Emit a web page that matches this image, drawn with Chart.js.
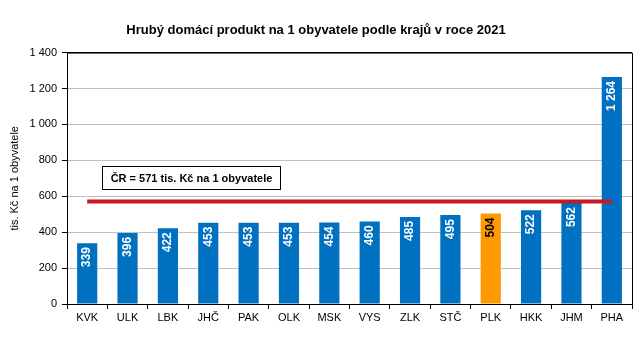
<html>
<head>
    <script src="https://cdn.jsdelivr.net/npm/chart.js"></script>
    <style>
        body { margin: 0; background: #fff; }
        #wrap { position: relative; width: 643px; height: 348px; }
    </style>
</head>
<body>
<div id="wrap"><canvas id="gdpChart" width="643" height="348"></canvas></div>
<script>
    var regions = ['KVK', 'ULK', 'LBK', 'JHČ', 'PAK', 'OLK', 'MSK', 'VYS', 'ZLK', 'STČ', 'PLK', 'HKK', 'JHM', 'PHA'];
    var gdpValues = [339, 396, 422, 453, 453, 453, 454, 460, 485, 495, 504, 522, 562, 1264];
    var czAverage = 571;
    var yTicks = [0, 200, 400, 600, 800, 1000, 1200, 1400];
    var avgNote = 'ČR = 571 tis. Kč na 1 obyvatele';

    var BLUE = '#0070C0', ORANGE = '#FF9900', RED = '#C8171E';
    var FONT = 'Liberation Sans, Arial, sans-serif';

    function fmt(v) {
        return String(v).replace(/\B(?=(\d{3})+(?!\d))/g, ' ');
    }

    // frame around plot, average note, rotated value labels
    var extras = {
        id: 'extras',
        beforeDatasetsDraw: function (chart) {
            var ctx = chart.ctx, a = chart.chartArea;
            ctx.save();
            ctx.strokeStyle = '#000';
            ctx.lineWidth = 1;
            ctx.beginPath();
            ctx.moveTo(a.left, a.top + 0.5);
            ctx.lineTo(a.right + 0.5, a.top + 0.5);
            ctx.lineTo(a.right + 0.5, a.bottom);
            ctx.stroke();
            ctx.restore();
        },
        afterDatasetsDraw: function (chart) {
            var ctx = chart.ctx;
            var xs = chart.scales.x, ys = chart.scales.y;
            ctx.save();
            // value labels (bars are dataset 1)
            var meta = chart.getDatasetMeta(1);
            ctx.font = 'bold 12px ' + FONT;
            meta.data.forEach(function (bar, i) {
                ctx.save();
                ctx.translate(bar.x, bar.y + 4);
                ctx.rotate(-Math.PI / 2);
                ctx.textAlign = 'right';
                ctx.textBaseline = 'middle';
                ctx.fillStyle = regions[i] === 'PLK' ? '#000' : '#fff';
                ctx.fillText(fmt(gdpValues[i]), 0, 0);
                ctx.restore();
            });
            // average note box
            var step = xs.getPixelForValue(1) - xs.getPixelForValue(0);
            var x1 = Math.round(xs.getPixelForValue(0) + 0.36 * step) + 0.5;
            var x2 = Math.round(xs.getPixelForValue(0) + 4.78 * step) + 0.5;
            var y1 = Math.round(ys.getPixelForValue(767)) + 0.5;
            var y2 = Math.round(ys.getPixelForValue(639)) + 0.5;
            ctx.fillStyle = '#fff';
            ctx.fillRect(x1, y1, x2 - x1, y2 - y1);
            ctx.strokeStyle = '#000';
            ctx.lineWidth = 1;
            ctx.strokeRect(x1, y1, x2 - x1, y2 - y1);
            ctx.fillStyle = '#000';
            ctx.font = 'bold 11px ' + FONT;
            ctx.textAlign = 'center';
            ctx.textBaseline = 'middle';
            ctx.fillText(avgNote, (x1 + x2) / 2, (y1 + y2) / 2 + 1);
            ctx.restore();
        }
    };

    var chart = new Chart(document.getElementById('gdpChart').getContext('2d'), {
        data: {
            labels: regions,
            datasets: [{
                type: 'line',
                label: 'ČR',
                data: regions.map(function () { return czAverage; }),
                borderColor: RED,
                borderWidth: 4,
                pointRadius: 0,
                order: 0
            }, {
                type: 'bar',
                label: 'HDP',
                data: gdpValues,
                backgroundColor: regions.map(function (r) { return r === 'PLK' ? ORANGE : BLUE; }),
                barPercentage: 0.5,
                categoryPercentage: 1,
                order: 1
            }]
        },
        options: {
            responsive: false,
            animation: false,
            layout: { padding: { top: 0, right: 11, left: 0, bottom: 0 } },
            plugins: {
                legend: { display: false },
                tooltip: { enabled: false },
                title: {
                    display: true,
                    text: 'Hrubý domácí produkt na 1 obyvatele podle krajů v roce 2021',
                    color: '#000',
                    font: { family: FONT, size: 13, weight: 'bold' },
                    padding: { top: 23, bottom: 14 }
                }
            },
            scales: {
                x: {
                    offset: true,
                    grid: { offset: true, drawOnChartArea: false, tickLength: 5, tickColor: '#000' },
                    border: { color: '#000' },
                    ticks: { color: '#000', font: { family: FONT, size: 11 }, padding: 2 },
                    afterFit: function (s) { s.height = 44; }
                },
                y: {
                    min: 0,
                    max: 1400,
                    afterBuildTicks: function (s) { s.ticks = yTicks.map(function (v) { return { value: v }; }); },
                    grid: {
                        color: function (c) { return c.tick && c.tick.value === 1400 ? '#000' : '#BFBFBF'; },
                        tickColor: '#000',
                        tickLength: 5
                    },
                    border: { color: '#000' },
                    ticks: {
                        color: '#000',
                        font: { family: FONT, size: 11 },
                        padding: 5,
                        callback: function (v) { return fmt(v); }
                    },
                    title: {
                        display: true,
                        text: 'tis. Kč na 1 obyvatele',
                        color: '#000',
                        font: { family: FONT, size: 11 },
                        padding: { top: 8, bottom: 0 }
                    },
                    afterFit: function (s) { s.width = 67; }
                }
            }
        },
        plugins: [extras]
    });
</script>
</body>
</html>
